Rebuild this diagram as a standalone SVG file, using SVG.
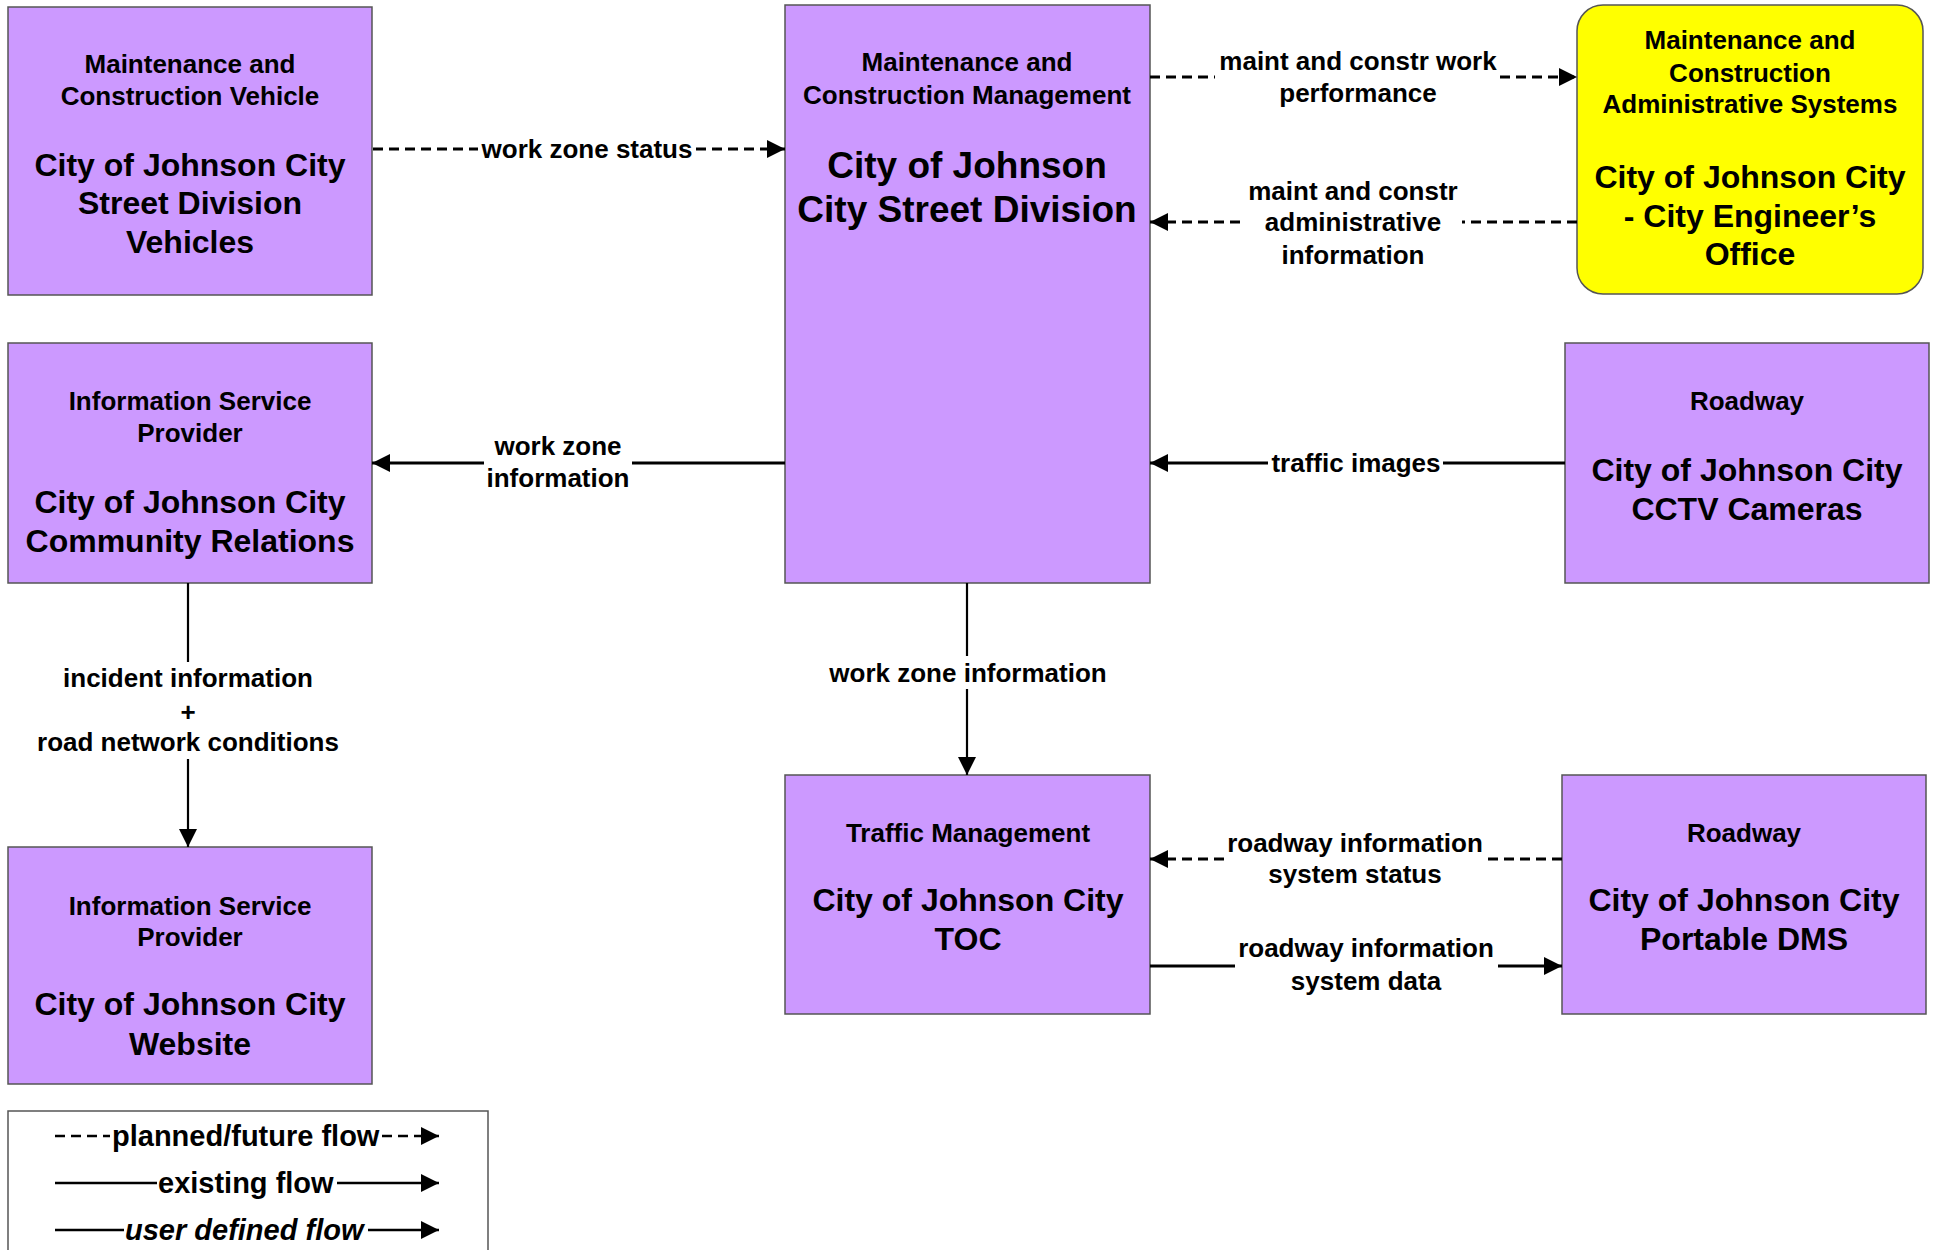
<svg xmlns="http://www.w3.org/2000/svg" width="1937" height="1250" viewBox="0 0 1937 1250">
<style>
.box{fill:#CC99FF;stroke:#555;stroke-width:1.5}
.ybox{fill:#FFFF00;stroke:#555;stroke-width:1.5}
text{font-family:"Liberation Sans",Arial,sans-serif;font-weight:bold;fill:#000;text-anchor:middle}
.h{font-size:26px}
.b{font-size:32px}
.bb{font-size:37px}
.l{font-size:26px}
.lg{font-size:29px;text-anchor:start}
.s{fill:none;stroke:#000;stroke-width:3}
.v{fill:none;stroke:#000;stroke-width:2.2}
.d{fill:none;stroke:#000;stroke-width:3;stroke-dasharray:10 6}
</style>
<defs>
<marker id="arr" markerUnits="userSpaceOnUse" markerWidth="18" markerHeight="18" refX="18" refY="9" orient="auto">
<path d="M0,0 L18,9 L0,18 z" fill="#000"/>
</marker>
</defs>
<rect width="1937" height="1250" fill="#fff"/>

<g id="mcv">
<rect class="box" x="8" y="7" width="364" height="288"/>
<text class="h" x="190" y="73">Maintenance and</text>
<text class="h" x="190" y="105">Construction Vehicle</text>
<text class="b" x="190" y="176">City of Johnson City</text>
<text class="b" x="190" y="214">Street Division</text>
<text class="b" x="190" y="253">Vehicles</text>
</g>

<g id="isp-cr">
<rect class="box" x="8" y="343" width="364" height="240"/>
<text class="h" x="190" y="410">Information Service</text>
<text class="h" x="190" y="442">Provider</text>
<text class="b" x="190" y="513">City of Johnson City</text>
<text class="b" x="190" y="552">Community Relations</text>
</g>

<g id="isp-web">
<rect class="box" x="8" y="847" width="364" height="237"/>
<text class="h" x="190" y="915">Information Service</text>
<text class="h" x="190" y="946">Provider</text>
<text class="b" x="190" y="1015">City of Johnson City</text>
<text class="b" x="190" y="1055">Website</text>
</g>

<g id="mcm">
<rect class="box" x="785" y="5" width="365" height="578"/>
<text class="h" x="967" y="71">Maintenance and</text>
<text class="h" x="967" y="104">Construction Management</text>
<text class="bb" x="967" y="178">City of Johnson</text>
<text class="bb" x="967" y="222">City Street Division</text>
</g>

<g id="mcas">
<rect class="ybox" x="1577" y="5" width="346" height="289" rx="26" ry="26"/>
<text class="h" x="1750" y="49">Maintenance and</text>
<text class="h" x="1750" y="82">Construction</text>
<text class="h" x="1750" y="113">Administrative Systems</text>
<text class="b" x="1750" y="188">City of Johnson City</text>
<text class="b" x="1750" y="227">- City Engineer’s</text>
<text class="b" x="1750" y="265">Office</text>
</g>

<g id="cctv">
<rect class="box" x="1565" y="343" width="364" height="240"/>
<text class="h" x="1747" y="410">Roadway</text>
<text class="b" x="1747" y="481">City of Johnson City</text>
<text class="b" x="1747" y="520">CCTV Cameras</text>
</g>

<g id="toc">
<rect class="box" x="785" y="775" width="365" height="239"/>
<text class="h" x="968" y="842">Traffic Management</text>
<text class="b" x="968" y="911">City of Johnson City</text>
<text class="b" x="968" y="950">TOC</text>
</g>

<g id="dms">
<rect class="box" x="1562" y="775" width="364" height="239"/>
<text class="h" x="1744" y="842">Roadway</text>
<text class="b" x="1744" y="911">City of Johnson City</text>
<text class="b" x="1744" y="950">Portable DMS</text>
</g>

<g id="connectors">
<path class="d" d="M373,149 H478"/>
<path class="d" d="M696,149 H785" marker-end="url(#arr)"/>
<text class="l" x="587" y="158">work zone status</text>

<path class="s" d="M785,463 H632"/>
<path class="s" d="M484,463 H372" marker-end="url(#arr)"/>
<text class="l" x="558" y="455">work zone</text>
<text class="l" x="558" y="487">information</text>

<path class="v" d="M188,583 V662"/>
<path class="v" d="M188,759 V847" marker-end="url(#arr)"/>
<text class="l" x="188" y="687">incident information</text>
<text class="l" x="188" y="721">+</text>
<text class="l" x="188" y="751">road network conditions</text>

<path class="v" d="M967,583 V656"/>
<path class="v" d="M967,689 V775" marker-end="url(#arr)"/>
<text class="l" x="968" y="682">work zone information</text>

<path class="d" d="M1150,77 H1215"/>
<path class="d" d="M1500,77 H1577" marker-end="url(#arr)"/>
<text class="l" x="1358" y="70">maint and constr work</text>
<text class="l" x="1358" y="102">performance</text>

<path class="d" d="M1577,222 H1462"/>
<path class="d" d="M1240,222 H1150" marker-end="url(#arr)"/>
<text class="l" x="1353" y="200">maint and constr</text>
<text class="l" x="1353" y="231">administrative</text>
<text class="l" x="1353" y="264">information</text>

<path class="s" d="M1565,463 H1443"/>
<path class="s" d="M1268,463 H1150" marker-end="url(#arr)"/>
<text class="l" x="1356" y="472">traffic images</text>

<path class="d" d="M1562,859 H1488"/>
<path class="d" d="M1224,859 H1150" marker-end="url(#arr)"/>
<text class="l" x="1355" y="852">roadway information</text>
<text class="l" x="1355" y="883">system status</text>

<path class="s" d="M1150,966 H1235"/>
<path class="s" d="M1498,966 H1562" marker-end="url(#arr)"/>
<text class="l" x="1366" y="957">roadway information</text>
<text class="l" x="1366" y="990">system data</text>
</g>

<g id="legend">
<rect x="8" y="1111" width="480" height="150" fill="#fff" stroke="#555" stroke-width="1.5"/>
<path d="M55,1136 H110" fill="none" stroke="#000" stroke-width="2.5" stroke-dasharray="10 6"/>
<text class="lg" x="112" y="1146">planned/future flow</text>
<path d="M382,1136 H439" fill="none" stroke="#000" stroke-width="2.5" stroke-dasharray="10 6" marker-end="url(#arr)"/>
<path d="M55,1183 H157" fill="none" stroke="#000" stroke-width="2.5"/>
<text class="lg" x="158" y="1193">existing flow</text>
<path d="M337,1183 H439" fill="none" stroke="#000" stroke-width="2.5" marker-end="url(#arr)"/>
<path d="M55,1230 H124" fill="none" stroke="#000" stroke-width="2.5"/>
<text class="lg" x="125" y="1240" font-style="italic">user defined flow</text>
<path d="M368,1230 H439" fill="none" stroke="#000" stroke-width="2.5" marker-end="url(#arr)"/>
</g>
</svg>
